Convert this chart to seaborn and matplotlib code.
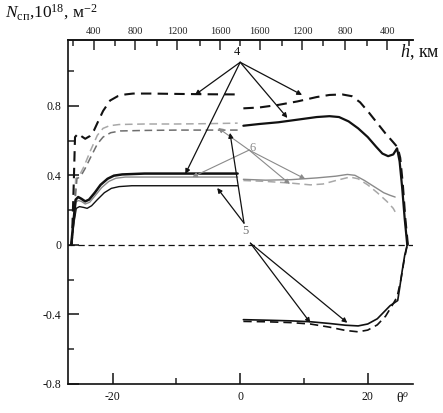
import numpy as np
import pandas as pd
import matplotlib
matplotlib.use("Agg")
import matplotlib.pyplot as plt
import seaborn as sns

sns.set_style("ticks")
plt.rcParams['font.family'] = ['Liberation Serif', 'DejaVu Serif']
plt.rcParams['mathtext.fontset'] = 'custom'
plt.rcParams['mathtext.rm'] = 'Liberation Serif'
plt.rcParams['mathtext.it'] = 'Liberation Serif:italic'

# ---------- data (theta in degrees, N in 1e18 m^-2) ----------
# left half
l_dash_top_x = [-26.4, -26.1, -25.9, -25.4, -24.9, -24.3, -23.6, -22.9, -22.4, -21.5, -20.4, -19.2, -18.0, -16.8, -14.0, -10.0, -5.0, -0.4]
l_dash_top_y = [0.0, 0.35, 0.62, 0.64, 0.625, 0.61, 0.625, 0.66, 0.70, 0.77, 0.83, 0.855, 0.865, 0.87, 0.87, 0.868, 0.866, 0.865]

l_dash_light_x = [-26.4, -26.0, -25.8, -25.2, -24.5, -23.5, -22.4, -21.5, -20.5, -19.0, -15.0, -10.0, -5.0, -0.4]
l_dash_light_y = [0.0, 0.2, 0.38, 0.40, 0.45, 0.54, 0.63, 0.67, 0.685, 0.692, 0.695, 0.695, 0.697, 0.70]

l_dash_dark_x = [-26.4, -26.0, -25.6, -25.0, -24.3, -23.5, -22.4, -21.5, -20.3, -18.8, -15.0, -10.0, -5.0, -0.4]
l_dash_dark_y = [0.0, 0.2, 0.38, 0.395, 0.44, 0.50, 0.58, 0.62, 0.645, 0.655, 0.658, 0.66, 0.66, 0.66]

l_solid_thick_x = [-26.5, -26.1, -25.8, -25.4, -24.9, -24.3, -23.7, -22.8, -21.9, -20.8, -19.8, -18.5, -15.0, -10.0, -5.0, -0.4]
l_solid_thick_y = [0.0, 0.15, 0.26, 0.275, 0.265, 0.25, 0.26, 0.30, 0.345, 0.38, 0.398, 0.405, 0.41, 0.41, 0.41, 0.41]

l_solid_gray_x = [-26.5, -26.1, -25.8, -25.4, -24.9, -24.3, -23.6, -22.7, -21.7, -20.6, -19.5, -18.0, -10.0, -0.4]
l_solid_gray_y = [0.0, 0.14, 0.245, 0.255, 0.25, 0.235, 0.245, 0.285, 0.33, 0.365, 0.383, 0.39, 0.39, 0.39]

l_solid_thin_x = [-26.5, -26.1, -25.7, -25.2, -24.5, -24.0, -23.3, -22.4, -21.3, -20.2, -19.0, -17.0, -10.0, -0.4]
l_solid_thin_y = [0.0, 0.12, 0.21, 0.22, 0.215, 0.21, 0.225, 0.26, 0.30, 0.325, 0.335, 0.34, 0.34, 0.34]

# right half
r_dash_top_x = [0.5, 3.0, 6.0, 9.0, 12.0, 14.0, 16.0, 17.5, 18.8, 20.2, 21.5, 22.8, 24.0, 24.7, 25.1, 25.5, 25.9, 26.3]
r_dash_top_y = [0.785, 0.79, 0.805, 0.825, 0.85, 0.862, 0.865, 0.855, 0.82, 0.76, 0.70, 0.64, 0.59, 0.56, 0.50, 0.35, 0.15, 0.0]

r_solid_top_x = [0.5, 3.0, 6.0, 9.0, 12.0, 14.0, 15.5, 17.0, 18.5, 20.0, 21.3, 22.3, 23.2, 24.0, 24.6, 25.0, 25.4, 25.8, 26.2]
r_solid_top_y = [0.685, 0.695, 0.705, 0.72, 0.735, 0.74, 0.735, 0.71, 0.67, 0.62, 0.565, 0.525, 0.51, 0.52, 0.555, 0.48, 0.33, 0.15, 0.0]

r_solid_gray_x = [0.5, 4.0, 8.0, 12.0, 15.0, 16.8, 18.0, 19.5, 21.0, 22.5, 23.5, 24.3]
r_solid_gray_y = [0.377, 0.372, 0.375, 0.385, 0.395, 0.405, 0.40, 0.37, 0.335, 0.30, 0.285, 0.275]

r_dash_gray_x = [0.5, 4.0, 8.0, 11.0, 13.0, 15.0, 17.2, 18.5, 20.0, 21.5, 23.0, 24.0, 24.3]
r_dash_gray_y = [0.37, 0.365, 0.355, 0.345, 0.35, 0.37, 0.39, 0.38, 0.345, 0.30, 0.25, 0.21, 0.19]

r_solid_neg_x = [0.5, 4.0, 8.0, 11.0, 14.0, 16.5, 18.5, 20.0, 21.5, 22.7, 23.5, 24.3, 24.7, 25.0, 25.4, 25.8, 26.2]
r_solid_neg_y = [-0.43, -0.433, -0.437, -0.442, -0.452, -0.462, -0.466, -0.455, -0.425, -0.38, -0.35, -0.33, -0.32, -0.25, -0.15, -0.06, 0.0]

r_dash_neg_x = [0.5, 4.0, 8.0, 11.0, 14.0, 16.5, 18.5, 20.0, 21.5, 22.8, 23.8, 24.6, 25.2, 25.7, 26.2]
r_dash_neg_y = [-0.44, -0.442, -0.447, -0.455, -0.473, -0.492, -0.50, -0.49, -0.46, -0.41, -0.35, -0.30, -0.20, -0.09, 0.0]

# axis ticks
x_major = [-20, 0, 20]
x_minor = [-10, 10]
y_major = [-0.8, -0.4, 0, 0.4, 0.8]
y_minor = [-0.6, -0.2, 0.2, 0.6, 1.0]
h_major_pos = [-23.0, -16.5, -9.9, -3.1, 3.1, 9.7, 16.5, 23.1]
h_major_lab = ['400', '800', '1200', '1600', '1600', '1200', '800', '400']
h_minor_pos = [-26.2, -19.6, -13.0, -6.3, 0.0, 6.6, 13.0, 19.9, 26.4]

BLACK = '#111111'
GRAY = '#8a8a8a'
LIGHT = '#a8a8a8'
DARK = '#6e6e6e'
DASH = (0, (5, 3))

fig = plt.figure(figsize=(4.43, 4.13), dpi=100)
ax = fig.add_axes([68 / 443, 1 - 384 / 413, 345 / 443, 344 / 413])


def draw(xs, ys, color, lw, ls):
    df = pd.DataFrame({'theta': xs, 'N': ys})
    sns.lineplot(data=df, x='theta', y='N', ax=ax, color=color, linewidth=lw,
                 linestyle=ls, sort=False, estimator=None)


ax.axhline(0, color=BLACK, lw=0.9, ls=DASH)

draw(l_dash_light_x, l_dash_light_y, LIGHT, 1.1, DASH)
draw(l_dash_dark_x, l_dash_dark_y, DARK, 1.1, DASH)
draw(l_dash_top_x, l_dash_top_y, BLACK, 1.5, DASH)
draw(l_solid_thin_x, l_solid_thin_y, BLACK, 1.0, '-')
draw(l_solid_gray_x, l_solid_gray_y, GRAY, 1.0, '-')
draw(l_solid_thick_x, l_solid_thick_y, BLACK, 1.8, '-')

draw(r_dash_gray_x, r_dash_gray_y, LIGHT, 1.1, DASH)
draw(r_solid_gray_x, r_solid_gray_y, GRAY, 1.0, '-')
draw(r_dash_top_x, r_dash_top_y, BLACK, 1.5, DASH)
draw(r_solid_top_x, r_solid_top_y, BLACK, 1.6, '-')
draw(r_dash_neg_x, r_dash_neg_y, BLACK, 1.2, DASH)
draw(r_solid_neg_x, r_solid_neg_y, BLACK, 1.2, '-')

ax.set_xlim(-27.0, 27.1)
ax.set_ylim(-0.8, 1.178)
ax.set_xlabel('')
ax.set_ylabel('')

# axes styling
for s in ['left', 'bottom', 'top']:
    ax.spines[s].set_linewidth(1.2)
    ax.spines[s].set_color(BLACK)
ax.spines['right'].set_visible(False)

ax.set_xticks(x_major)
ax.set_xticklabels(['-20', '0', '20'])
ax.set_xticks(x_minor, minor=True)
ax.set_yticks(y_major)
ax.set_yticklabels(['-0.8', '-0.4', '0', '0.4', '0.8'])
ax.set_yticks(y_minor, minor=True)
ax.tick_params(axis='both', which='major', direction='in', length=8, width=1.1,
               labelsize=8.5, pad=5, colors=BLACK)
ax.tick_params(axis='both', which='minor', direction='in', length=4, width=1.1)

top = ax.secondary_xaxis('top')
top.set_xticks(h_major_pos)
top.set_xticklabels(h_major_lab)
top.set_xticks(h_minor_pos, minor=True)
top.tick_params(which='major', direction='in', length=7, width=1.1, labelsize=7.5, pad=3)
top.tick_params(which='minor', direction='in', length=4, width=1.1)
top.spines['top'].set_linewidth(1.2)

# annotations
akw = dict(arrowstyle='-|>', color=BLACK, lw=0.9, mutation_scale=7, shrinkA=0, shrinkB=0)
gkw = dict(arrowstyle='-|>', color=GRAY, lw=0.8, mutation_scale=7, shrinkA=0, shrinkB=0)

ax.text(-0.5, 1.075, '4', fontsize=9, ha='center', va='bottom', color=BLACK)
for tx, ty in [(-7.1, 0.862), (-8.6, 0.408), (9.7, 0.862), (7.4, 0.73)]:
    ax.annotate('', xy=(tx, ty), xytext=(0.0, 1.05), arrowprops=akw)

ax.text(1.9, 0.557, '6', fontsize=9, ha='center', va='center', color=GRAY)
for tx, ty in [(-3.45, 0.672), (-7.5, 0.39), (10.2, 0.379), (7.8, 0.35)]:
    ax.annotate('', xy=(tx, ty), xytext=(1.4, 0.545), arrowprops=gkw)

ax.text(0.8, 0.08, '5', fontsize=9, ha='center', va='center', color=DARK)
for tx, ty in [(-1.6, 0.644), (-3.6, 0.327)]:
    ax.annotate('', xy=(tx, ty), xytext=(0.6, 0.125), arrowprops=akw)
for tx, ty in [(11.0, -0.448), (16.8, -0.448)]:
    ax.annotate('', xy=(tx, ty), xytext=(1.6, 0.01), arrowprops=akw)

# axis titles
fig.text(5 / 443, 1 - 12 / 413, r'$N_{\mathrm{сп}}$,10$^{18}$, м$^{-2}$', fontsize=12.5,
         ha='left', va='center', color=BLACK)
fig.text(440 / 443, 1 - 52 / 413, r'$h$, км', fontsize=13, ha='right', va='center', color=BLACK)
fig.text(403 / 443, 1 - 398 / 413, r'θ$^{o}$', fontsize=10, ha='center', va='center', color=BLACK)

fig.savefig('out.png', dpi=100)
